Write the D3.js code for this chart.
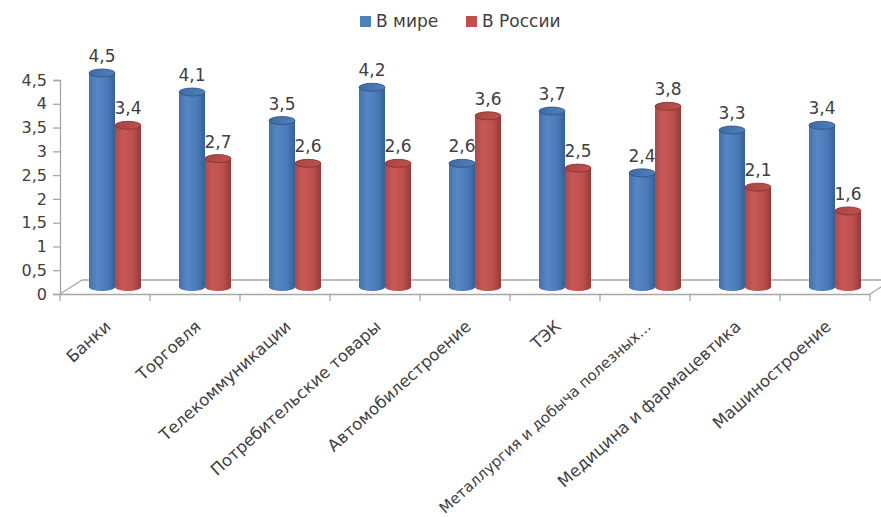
<!DOCTYPE html>
<html><head><meta charset="utf-8">
<script src="https://cdn.jsdelivr.net/npm/d3@7"></script>
<style>html,body{margin:0;padding:0;background:#fff;}svg{display:block;}</style>
</head><body>
<script>
const categories = ["Банки","Торговля","Телекоммуникации","Потребительские товары","Автомобилестроение","ТЭК","Металлургия и добыча полезных…","Медицина и фармацевтика","Машиностроение"];
const seriesNames = ["В мире","В России"];
const worldValues = [4.5,4.1,3.5,4.2,2.6,3.7,2.4,3.3,3.4];
const russiaValues = [3.4,2.7,2.6,2.6,3.6,2.5,3.8,2.1,1.6];
const yTicks = [0,0.5,1,1.5,2,2.5,3,3.5,4,4.5];

const W=881,H=517;
const FONT="DejaVu Sans, sans-serif";
const TXT="#404040", AX="#A6A6A6";
const svg=d3.select("body").append("svg").attr("width",W).attr("height",H);
const defs=svg.append("defs");
function grad(id,stops){
  const g=defs.append("linearGradient").attr("id",id).attr("x1","0").attr("x2","1").attr("y1","0").attr("y2","0");
  stops.forEach(s=>g.append("stop").attr("offset",s[0]).attr("stop-color",s[1]));
}
grad("gBlue",[[0,"#4571aa"],[0.3,"#5686c4"],[0.7,"#4a7bb8"],[1,"#34609a"]]);
grad("gRed",[[0,"#ad4947"],[0.3,"#c85956"],[0.7,"#bb4f4c"],[1,"#963a38"]]);
grad("gBlueTop",[[0,"#3f6ba3"],[1,"#4f80bd"]]);
grad("gRedTop",[[0,"#a94543"],[1,"#c0504d"]]);

const y=d3.scaleLinear().domain([0,4.5]).range([294,80]);
const x=d3.scaleBand().domain(categories).range([60,870]);
const xs=d3.scaleBand().domain(seriesNames).range([29,81]);
const DX=22, DY=-14;
const yb=v=>y(v)+DY/2;

// floor
const floor=svg.append("g").attr("stroke",AX).attr("stroke-width",1.3).attr("fill","none");
floor.append("line").attr("x1",60+DX).attr("y1",y(0)+DY).attr("x2",870+DX).attr("y2",y(0)+DY);
floor.append("line").attr("x1",60).attr("y1",y(0)).attr("x2",60+DX).attr("y2",y(0)+DY);
floor.append("line").attr("x1",870).attr("y1",y(0)).attr("x2",870+DX).attr("y2",y(0)+DY);

// y axis
const yAxis=d3.axisLeft(y).tickValues(yTicks).tickSize(7).tickPadding(6).tickFormat(d=>String(d).replace(".",","));
const gy=svg.append("g").attr("transform","translate(60,0)").call(yAxis);
gy.select(".domain").attr("stroke",AX).attr("stroke-width",1.3);
gy.selectAll(".tick line").attr("stroke",AX).attr("stroke-width",1.3);
gy.selectAll(".tick text").attr("fill",TXT).style("font-family",FONT).style("font-size","16px");

// x axis
const xAxis=d3.axisBottom(x).tickSize(0).tickFormat("");
const gx=svg.append("g").attr("transform",`translate(0,${y(0)})`).call(xAxis);
gx.select(".domain").attr("stroke",AX).attr("stroke-width",1.3);
gx.selectAll(".tick").remove();
const bounds=categories.map(c=>x(c)).concat([x.range()[1]]);
gx.selectAll("line.tk").data(bounds).enter().append("line").attr("class","tk")
  .attr("x1",d=>d).attr("x2",d=>d).attr("y1",0).attr("y2",7).attr("stroke",AX).attr("stroke-width",1.3);
svg.append("g").selectAll("text").data(categories).enter().append("text")
  .attr("transform",d=>`translate(${x(d)+x.bandwidth()/2+7},${y(0)+34}) rotate(-42)`)
  .attr("text-anchor","end").attr("fill",TXT).style("font-family",FONT)
  .style("font-size",d=>d.length>28?"15px":"16.5px").text(d=>d);

// bars
const data=[];
categories.forEach((c,i)=>{
  data.push({c,s:seriesNames[0],v:worldValues[i],body:"url(#gBlue)",top:"url(#gBlueTop)",rim:"#2c5282"});
  data.push({c,s:seriesNames[1],v:russiaValues[i],body:"url(#gRed)",top:"url(#gRedTop)",rim:"#7f3230"});
});
const RY=4;
const bars=svg.append("g").selectAll("g").data(data).enter().append("g");
bars.each(function(d){
  const g=d3.select(this);
  const x0=x(d.c)+xs(d.s), w=xs.bandwidth(), rx=w/2, cx=x0+rx;
  const yt=yb(d.v), y0=yb(0);
  g.append("path").attr("fill",d.body)
    .attr("d",`M${x0},${yt} L${x0},${y0} A${rx},${RY} 0 0 0 ${x0+w},${y0} L${x0+w},${yt} Z`);
  g.append("ellipse").attr("cx",cx).attr("cy",yt).attr("rx",rx).attr("ry",RY)
    .attr("fill",d.top).attr("stroke",d.rim).attr("stroke-width",0.8);
  g.append("text").attr("x",cx).attr("y",yt-11).attr("text-anchor","middle")
    .attr("fill",TXT).style("font-family",FONT).style("font-size","17px")
    .text(String(d.v).replace(".",","));
});

// legend
const lg=svg.append("g");
const legendItems=[{n:seriesNames[0],c:"#4f81bd",x:360},{n:seriesNames[1],c:"#c0504d",x:466}];
legendItems.forEach(it=>{
  lg.append("rect").attr("x",it.x).attr("y",16).attr("width",11).attr("height",11).attr("fill",it.c);
  lg.append("text").attr("x",it.x+16).attr("y",27).attr("fill",TXT).style("font-family",FONT).style("font-size","17px").text(it.n);
});
</script>
</body></html>
